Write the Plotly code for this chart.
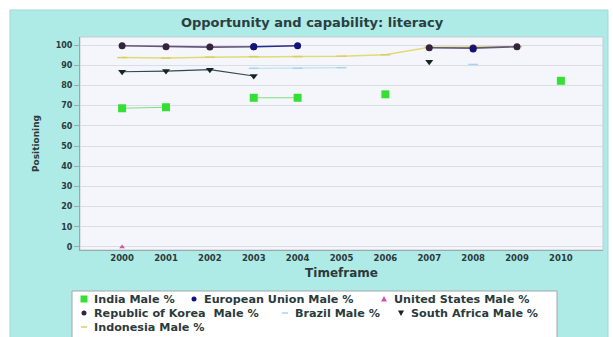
import plotly.graph_objects as go

# Literacy (male %) by year for each region
years = [2000, 2001, 2002, 2003, 2004, 2005, 2006, 2007, 2008, 2009, 2010]
tick_labels = [str(y) for y in years]

india_years = [2000, 2001, None, 2003, 2004, None, 2006, None, 2010]
india_vals = [68.7, 69.2, None, 73.9, 73.9, None, 75.6, None, 82.3]

eu_years = [2003, 2004, None, 2008]
eu_vals = [99.2, 99.7, None, 98.0]

us_years = [2000]
us_vals = [0.0]

korea_years = [2000, 2001, 2002, 2003, None, 2007, 2008, 2009]
korea_vals = [99.7, 99.2, 99.0, 99.2, None, 98.7, 98.5, 99.2]

brazil_years = [2003, 2004, 2005, None, 2008]
brazil_vals = [88.5, 88.5, 88.8, None, 90.4]

safrica_years = [2000, 2001, 2002, 2003, None, 2007]
safrica_vals = [86.8, 87.1, 87.8, 84.7, None, 91.7]

indonesia_years = [2000, 2001, 2002, 2003, 2004, 2005, 2006, 2007, 2008, 2009]
indonesia_vals = [93.8, 93.6, 94.0, 94.3, 94.3, 94.5, 95.2, 98.9, 99.0, 99.2]

y_ticks = list(range(0, 101, 10))

FONT = "DejaVu Sans"
TXT = "#2b3b3b"

# series styling: name -> (colour, legend symbol)
series = {
    "India Male %": ("#36df36", "square"),
    "European Union Male %": ("#12127a", "circle"),
    "United States Male %": ("#cc55aa", "triangle-up"),
    "Republic of Korea  Male %": ("#35233d", "circle"),
    "Brazil Male %": ("#a6d6ef", "dash"),
    "South Africa Male %": ("#152424", "triangle-down"),
    "Indonesia Male %": ("#d8cf60", "dash"),
}

fig = go.Figure()

# drawing order, bottom to top
fig.add_trace(go.Scatter(
    x=indonesia_years, y=indonesia_vals, name="Indonesia Male %",
    mode="lines+markers", line=dict(color="#e2da74", width=1.5),
    marker=dict(symbol="line-ew", size=7, color="#d8cf60",
                line=dict(color="#d8cf60", width=1.5))))
fig.add_trace(go.Scatter(
    x=brazil_years, y=brazil_vals, name="Brazil Male %",
    mode="lines+markers", line=dict(color="#bfe3f3", width=1.2),
    marker=dict(symbol="line-ew", size=7, color="#a6d6ef",
                line=dict(color="#a6d6ef", width=1.5))))
fig.add_trace(go.Scatter(
    x=safrica_years, y=safrica_vals, name="South Africa Male %",
    mode="lines+markers", line=dict(color="#34484a", width=1.2),
    marker=dict(symbol="triangle-down", size=7, color="#152424")))
fig.add_trace(go.Scatter(
    x=india_years, y=india_vals, name="India Male %",
    mode="lines+markers", line=dict(color="#7de07d", width=1),
    marker=dict(symbol="square", size=8, color="#36df36")))
fig.add_trace(go.Scatter(
    x=us_years, y=us_vals, name="United States Male %",
    mode="lines+markers", line=dict(color="#cc55aa", width=1),
    marker=dict(symbol="triangle-up", size=5, color="#cc55aa")))
fig.add_trace(go.Scatter(
    x=korea_years, y=korea_vals, name="Republic of Korea  Male %",
    mode="lines+markers", line=dict(color="#66557a", width=1.6),
    marker=dict(symbol="circle", size=7, color="#35233d")))
fig.add_trace(go.Scatter(
    x=eu_years, y=eu_vals, name="European Union Male %",
    mode="lines+markers", line=dict(color="#2a2a8a", width=1.6),
    marker=dict(symbol="circle", size=7, color="#12127a")))

# pixel geometry of the plotting area
L, R, T, B = 80, 10, 37, 87
W, H = 613, 337
pw, ph = W - L - R, H - T - B


def px_x(p):
    return (p - L) / pw


def px_y(p):
    return (H - B - p) / ph


shapes = [
    dict(type="rect", xref="paper", yref="paper", layer="below",
         x0=px_x(10), x1=px_x(608), y0=px_y(345), y1=px_y(10),
         fillcolor="#aeeae6", line=dict(color="#9fd8d6", width=1)),
    dict(type="rect", xref="paper", yref="paper", layer="below",
         x0=0, x1=1, y0=0, y1=1,
         fillcolor="#f4f6fb", line=dict(color="#c4ccd2", width=1)),
    # legend box
    dict(type="rect", xref="paper", yref="paper", layer="above",
         x0=px_x(72), x1=px_x(557), y0=px_y(345), y1=px_y(291),
         fillcolor="white", line=dict(color="#a0a8a8", width=1)),
]
annotations = []

# legend rows: (name, symbol x, row y)
legend_slots = [
    ("India Male %", 84, 299), ("European Union Male %", 194, 299),
    ("United States Male %", 384, 299),
    ("Republic of Korea  Male %", 84, 313), ("Brazil Male %", 285, 313),
    ("South Africa Male %", 401, 313),
    ("Indonesia Male %", 84, 327),
]


def symbol_shape(kind, cx, cy, color):
    if kind == "square":
        return dict(type="rect", x0=px_x(cx - 3.5), x1=px_x(cx + 3.5),
                    y0=px_y(cy + 3.5), y1=px_y(cy - 3.5),
                    fillcolor=color, line=dict(width=0))
    if kind == "circle":
        return dict(type="circle", x0=px_x(cx - 2.5), x1=px_x(cx + 2.5),
                    y0=px_y(cy + 2.5), y1=px_y(cy - 2.5),
                    fillcolor=color, line=dict(width=0))
    if kind == "dash":
        return dict(type="line", x0=px_x(cx - 3), x1=px_x(cx + 3),
                    y0=px_y(cy), y1=px_y(cy), line=dict(color=color, width=1.5))
    if kind == "triangle-up":
        pts = [(cx - 3, cy + 2.5), (cx + 3, cy + 2.5), (cx, cy - 3)]
    else:
        pts = [(cx - 3, cy - 2.5), (cx + 3, cy - 2.5), (cx, cy + 3)]
    path = "M " + " L ".join(f"{px_x(a):.5f},{px_y(b):.5f}" for a, b in pts) + " Z"
    return dict(type="path", path=path, fillcolor=color, line=dict(width=0))


for name, sx, sy in legend_slots:
    color, kind = series[name]
    shp = symbol_shape(kind, sx, sy, color)
    shp.update(xref="paper", yref="paper", layer="above")
    shapes.append(shp)
    annotations.append(dict(
        text=name, xref="paper", yref="paper", x=px_x(sx + 8), y=px_y(sy),
        xanchor="left", yanchor="middle", showarrow=False,
        font=dict(size=11.2, family=FONT, weight="bold", color=TXT)))

fig.update_layout(
    width=W, height=H,
    margin=dict(l=L, r=R, t=T, b=B),
    paper_bgcolor="white",
    plot_bgcolor="rgba(0,0,0,0)",
    showlegend=False,
    font=dict(family=FONT, color=TXT),
    title=dict(text="Opportunity and capability: literacy",
               x=px_x(312), xref="paper", xanchor="center",
               y=1 - 22 / H, yref="container", yanchor="middle",
               font=dict(size=13, family=FONT, weight="bold", color="#2a4040")),
    shapes=shapes,
    annotations=annotations,
    xaxis=dict(
        range=[1999.04, 2010.96], tickmode="array", tickvals=years,
        ticktext=tick_labels, showgrid=False, zeroline=False,
        showline=True, linecolor="#9aa8aa", linewidth=1,
        ticks="", tickfont=dict(size=8.5, family=FONT, weight="bold", color=TXT),
        title=dict(text="Timeframe", standoff=6,
                   font=dict(size=12, family=FONT, weight="bold", color=TXT)),
    ),
    yaxis=dict(
        range=[-1.5, 104], tickmode="array", tickvals=y_ticks,
        showgrid=True, gridcolor="#d9dde5", gridwidth=1, zeroline=False,
        showline=True, linecolor="#9aa8aa", linewidth=1,
        ticks="outside", ticklen=5, tickcolor="#9aa8aa",
        tickfont=dict(size=8, family=FONT, weight="bold", color=TXT),
        title=dict(text="Positioning", standoff=14,
                   font=dict(size=9, family=FONT, weight="bold", color=TXT)),
    ),
)

fig.write_html("out.html")
